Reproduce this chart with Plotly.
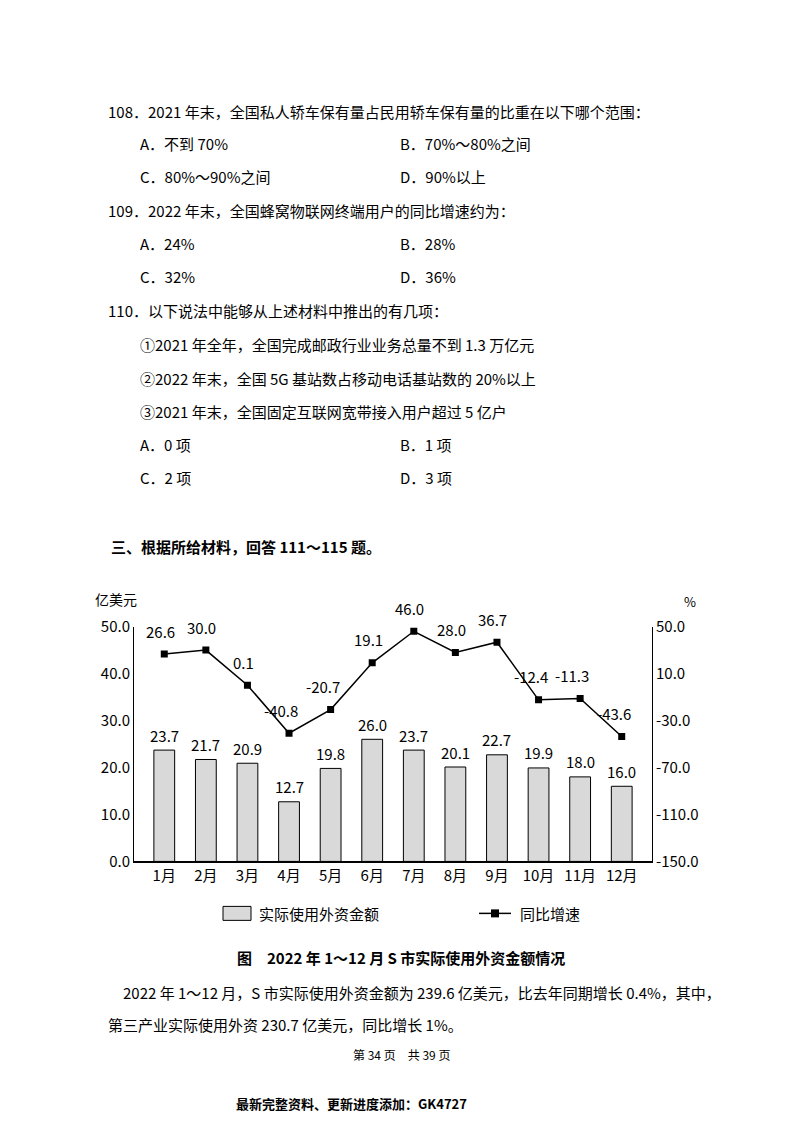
import plotly.graph_objects as go

months = ["1月","2月","3月","4月","5月","6月","7月","8月","9月","10月","11月","12月"]
amount = [23.7,21.7,20.9,12.7,19.8,26.0,23.7,20.1,22.7,19.9,18.0,16.0]
growth = [26.6,30.0,0.1,-40.8,-20.7,19.1,46.0,28.0,36.7,-12.4,-11.3,-43.6]
left_ticks = [0,10,20,30,40,50]
right_ticks = [-150,-110,-70,-30,10,50]

W, H = 800, 1124
F = "Noto Sans CJK SC"
def px(x): return (x - 7) / W
def py(y): return 1 - ((y - 20) / 0.982) / H

fig = go.Figure()
fig.add_trace(go.Bar(x=months, y=amount, marker=dict(color="#d9d9d9", line=dict(color="black", width=1)),
                     width=0.5, name="实际使用外资金额", showlegend=False))
fig.add_trace(go.Scatter(x=months, y=growth, yaxis="y2", mode="lines+markers",
                         line=dict(color="black", width=1.5), marker=dict(symbol="square", size=7, color="black"),
                         name="同比增速", showlegend=False))

ann = []
for m, v in zip(months, amount):
    ann.append(dict(x=m, y=v, xref="x", yref="y", text=f"{v:.1f}", showarrow=False, yshift=15,
                    font=dict(family=F, size=15, color="black")))
for m, v in zip(months, growth):
    ann.append(dict(x=m, y=v, xref="x", yref="y2", text=f"{v:.1f}", showarrow=False, yshift=23,
                    xshift=-8 if v < 0 else -4, font=dict(family=F, size=15, color="black")))

def t(x, y, s, size=15, bold=False, anchor="left"):
    if bold: s = f"<b>{s}</b>"
    ann.append(dict(x=px(x), y=py(y), xref="paper", yref="paper", text=s, showarrow=False,
                    xanchor=anchor, yanchor="middle", font=dict(family=F, size=size, color="black")))

t(105,112,"108．2021 年末，全国私人轿车保有量占民用轿车保有量的比重在以下哪个范围：")
t(137,144,"A．不到 70%"); t(397,144,"B．70%～80%之间")
t(137,177,"C．80%～90%之间"); t(397,177,"D．90%以上")
t(105,211,"109．2022 年末，全国蜂窝物联网终端用户的同比增速约为：")
t(137,244,"A．24%"); t(397,244,"B．28%")
t(137,277,"C．32%"); t(397,277,"D．36%")
t(105,311,"110．以下说法中能够从上述材料中推出的有几项：")
t(137,345,"①2021 年全年，全国完成邮政行业业务总量不到 1.3 万亿元")
t(137,379,"②2022 年末，全国 5G 基站数占移动电话基站数的 20%以上")
t(137,412,"③2021 年末，全国固定互联网宽带接入用户超过 5 亿户")
t(137,445,"A．0 项"); t(397,445,"B．1 项")
t(137,478,"C．2 项"); t(397,478,"D．3 项")
t(108,547,"三、根据所给材料，回答 111～115 题。", bold=True)
t(92,599,"亿美元", size=14)
t(681,602,"%", size=13)
t(256,914,"实际使用外资金额", size=15)
t(517,914,"同比增速", size=15)
t(400,958,"图　2022 年 1～12 月 S 市实际使用外资金额情况", bold=True, anchor="center")
t(105,993,"　2022 年 1～12 月，S 市实际使用外资金额为 239.6 亿美元，比去年同期增长 0.4%，其中，")
t(105,1025,"第三产业实际使用外资 230.7 亿美元，同比增长 1%。")
t(400,1055,"第 34 页　共 39 页", size=12, anchor="center")
t(350,1104,"最新完整资料、更新进度添加：GK4727", size=13, bold=True, anchor="center")

shapes = [
    dict(type="rect", xref="paper", yref="paper", x0=px(222), x1=px(250), y0=py(921), y1=py(907),
         fillcolor="#d9d9d9", line=dict(color="black", width=1)),
    dict(type="line", xref="paper", yref="paper", x0=px(478), x1=px(510), y0=py(914), y1=py(914),
         line=dict(color="black", width=1.5)),
    dict(type="rect", xref="paper", yref="paper", x0=px(490), x1=px(498), y0=py(918), y1=py(910),
         fillcolor="black", line=dict(color="black", width=0)),
]

fig.update_layout(
    width=W, height=H, margin=dict(l=0, r=0, t=0, b=0),
    paper_bgcolor="white", plot_bgcolor="white",
    font=dict(family=F, size=14, color="black"),
    annotations=ann, shapes=shapes, bargap=0.5,
    xaxis=dict(domain=[px(133), px(651)], showline=True, linecolor="black", linewidth=1.5,
               ticks="", showgrid=False, anchor="y", tickfont=dict(size=15)),
    yaxis=dict(domain=[py(862), py(627)], range=[0, 50], tickvals=left_ticks,
               ticktext=[f"{v:.1f}" for v in left_ticks], showline=True, linecolor="black",
               linewidth=1, showgrid=False, ticks="", zeroline=False, tickfont=dict(size=15)),
    yaxis2=dict(overlaying="y", side="right", range=[-150, 50], tickvals=right_ticks,
                ticktext=[f"{v:.1f}" for v in right_ticks], showline=True, linecolor="black",
                linewidth=1, showgrid=False, ticks="", zeroline=False, tickfont=dict(size=15)),
)
fig.write_html("out.html")
